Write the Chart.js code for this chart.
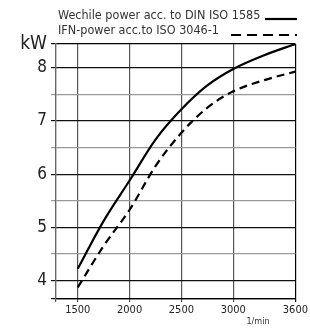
<!DOCTYPE html>
<html>
<head>
<meta charset="utf-8">
<script src="https://cdn.jsdelivr.net/npm/chart.js@4/dist/chart.umd.min.js"></script>
<style>
  html, body { margin: 0; padding: 0; background: #fff; }
  #wrap { width: 310px; height: 329px; }
</style>
</head>
<body>
<div id="wrap"><canvas id="powerChart"></canvas></div>
<script>
// engine speed (1/min) and power (kW)
const speeds = [1500, 1750, 2000, 2250, 2500, 2750, 3000, 3300, 3600];
const dinPower = [4.22, 5.12, 5.88, 6.65, 7.22, 7.67, 7.98, 8.24, 8.45];
const isoPower = [3.87, 4.65, 5.33, 6.15, 6.78, 7.25, 7.56, 7.77, 7.93];

const xTicks = [1290, 1500, 2000, 2500, 3000, 3600];
const yTicks = [3.65, 4, 4.5, 5, 5.5, 6, 6.5, 7, 7.5, 8, 8.45];
const legendLabels = ["Wechile power acc. to DIN ISO 1585", "IFN-power acc.to ISO 3046-1"];
const yUnit = "kW";
const xUnit = "1/min";

const FONT = "'DejaVu Sans Condensed', 'Liberation Sans Narrow', 'DejaVu Sans', sans-serif";

// legend text + line samples and the x unit, drawn on top of the chart
const extrasPlugin = {
    id: 'extras',
    afterDraw(chart) {
        const ctx = chart.ctx;
        ctx.save();
        ctx.fillStyle = '#333';
        ctx.font = "12.5px " + FONT;
        ctx.textBaseline = 'middle';
        ctx.textAlign = 'left';
        ctx.fillText(legendLabels[0], 58, 16);
        ctx.fillText(legendLabels[1], 58, 31);

        ctx.strokeStyle = '#000';
        ctx.lineWidth = 2.2;
        ctx.beginPath();
        ctx.moveTo(265, 19);
        ctx.lineTo(297, 19);
        ctx.stroke();

        ctx.setLineDash([10, 6]);
        ctx.beginPath();
        ctx.moveTo(231, 35);
        ctx.lineTo(297, 35);
        ctx.stroke();
        ctx.setLineDash([]);

        ctx.font = "9px " + FONT;
        ctx.textAlign = 'center';
        ctx.fillText(xUnit, 258, 322);
        ctx.restore();
    }
};

const ctx = document.getElementById("powerChart").getContext("2d");

new Chart(ctx, {
    type: "line",
    data: {
        labels: speeds,
        datasets: [
            {
                label: legendLabels[0],
                data: speeds.map((s, i) => ({ x: s, y: dinPower[i] })),
                borderColor: "#000",
                borderWidth: 2.2,
                pointRadius: 0,
                cubicInterpolationMode: 'monotone',
                fill: false
            },
            {
                label: legendLabels[1],
                data: speeds.map((s, i) => ({ x: s, y: isoPower[i] })),
                borderColor: "#000",
                borderWidth: 2.2,
                borderDash: [8, 5],
                pointRadius: 0,
                cubicInterpolationMode: 'monotone',
                fill: false
            }
        ]
    },
    options: {
        responsive: true,
        maintainAspectRatio: false,
        animation: false,
        layout: { padding: { top: 44, right: 14, left: 0, bottom: 0 } },
        plugins: {
            legend: { display: false },
            tooltip: { enabled: false }
        },
        scales: {
            x: {
                type: 'linear',
                min: 1290,
                max: 3600,
                afterBuildTicks: scale => { scale.ticks = xTicks.map(v => ({ value: v })); },
                afterFit: scale => { scale.height = 30; },
                border: { display: true, color: '#000', width: 1.2 },
                grid: {
                    color: c => (c.tick && c.tick.value === 3600) ? '#000' : '#555',
                    lineWidth: 1.2,
                    tickLength: 3
                },
                ticks: {
                    autoSkip: false,
                    color: '#222',
                    font: { family: FONT, size: 11 },
                    padding: 2,
                    maxRotation: 0,
                    callback: v => v === 1290 ? '' : String(v)
                }
            },
            y: {
                type: 'linear',
                min: 3.65,
                max: 8.45,
                afterBuildTicks: scale => { scale.ticks = yTicks.map(v => ({ value: v })); },
                afterFit: scale => { scale.width = 56; },
                border: { display: true, color: '#666', width: 1.2 },
                grid: {
                    color: c => {
                        const v = c.tick ? c.tick.value : 0;
                        if (v === 8.45 || v === 3.65) return '#000';
                        return Number.isInteger(v) ? '#111' : '#999';
                    },
                    lineWidth: 1.2,
                    tickLength: 5
                },
                ticks: {
                    autoSkip: false,
                    color: '#222',
                    padding: 4,
                    font: c => (c.tick && c.tick.value === 8.45)
                        ? { family: FONT, size: 19 }
                        : { family: FONT, size: 17 },
                    callback: v => {
                        if (v === 8.45) return yUnit;
                        return Number.isInteger(v) ? String(v) : '';
                    }
                }
            }
        }
    },
    plugins: [extrasPlugin]
});
</script>
</body>
</html>
